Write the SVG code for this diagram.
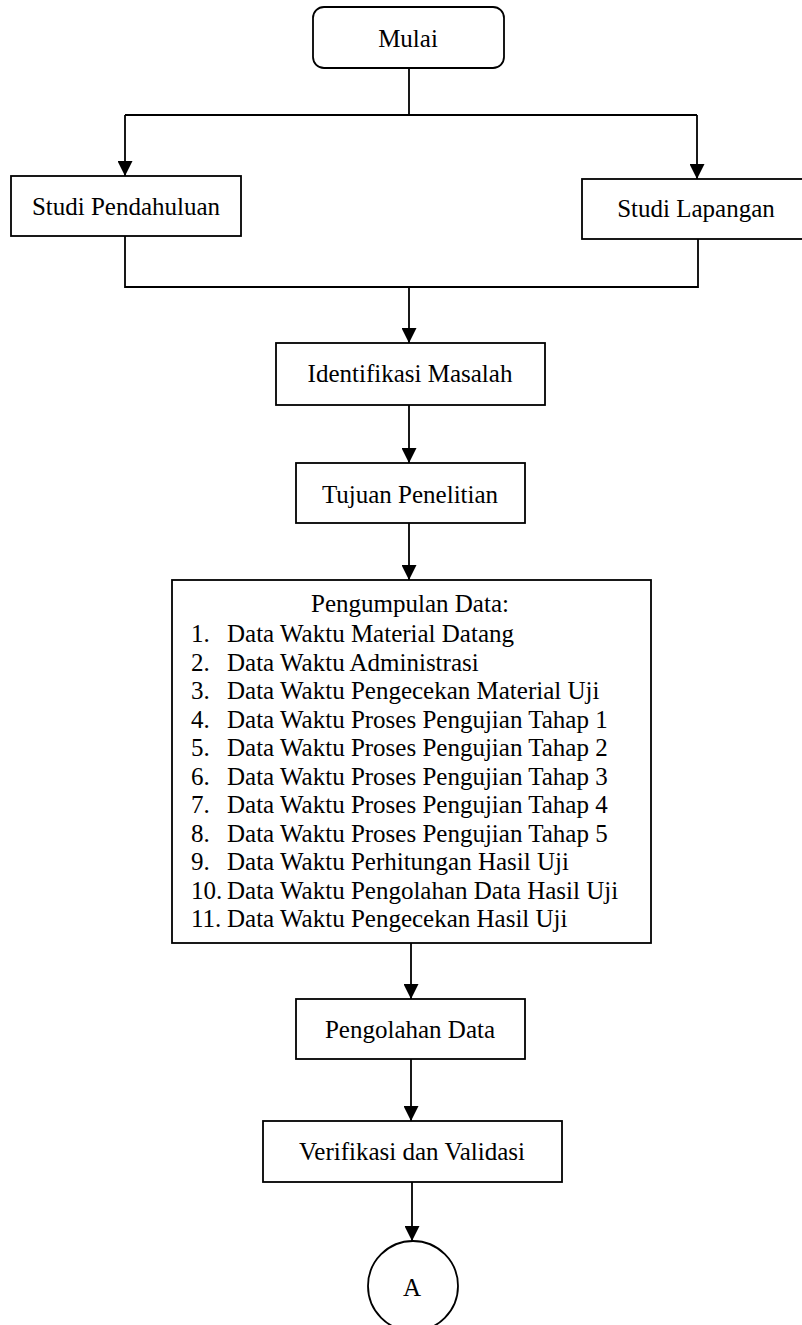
<svg xmlns="http://www.w3.org/2000/svg" width="802" height="1325" viewBox="0 0 802 1325">
<style>
  .box { fill: #ffffff; stroke: #000000; stroke-width: 1.8; }
  .lbl { font-family: "Liberation Serif", "Times New Roman", serif; font-size: 25px; fill: #000000; text-anchor: middle; }
  .lst { font-family: "Liberation Serif", "Times New Roman", serif; font-size: 25px; fill: #000000; }
  .ln { fill: none; stroke: #000000; stroke-width: 1.8; }
  .arr { fill: none; stroke: #000000; stroke-width: 1.8; marker-end: url(#ah); }
</style>
<defs>
  <marker id="ah" markerUnits="userSpaceOnUse" markerWidth="15" markerHeight="15" viewBox="0 0 15 15" refX="15" refY="7.5" orient="auto">
    <path d="M0,0 L15,7.5 L0,15 Z" fill="#000000"/>
  </marker>
</defs>
<rect width="802" height="1325" fill="#ffffff"/>

<g id="connectors">
  <path class="ln" d="M409,68 V115 M125,115 H697"/>
  <path class="arr" d="M125,115 V176"/>
  <path class="arr" d="M697,115 V179"/>
  <path class="ln" d="M125,236 V287 H698 V239"/>
  <path class="arr" d="M409,287 V343"/>
  <path class="arr" d="M409,405 V463"/>
  <path class="arr" d="M409,523 V580"/>
  <path class="arr" d="M411,943 V999"/>
  <path class="arr" d="M411,1059 V1121"/>
  <path class="arr" d="M412,1182 V1241"/>
</g>

<g id="mulai">
  <rect class="box" x="313" y="7" width="191" height="61" rx="11" ry="11"/>
  <text class="lbl" x="408" y="47">Mulai</text>
</g>

<g id="studi-pendahuluan">
  <rect class="box" x="11" y="176" width="230" height="60"/>
  <text class="lbl" x="126" y="215">Studi Pendahuluan</text>
</g>

<g id="studi-lapangan">
  <rect class="box" x="582" y="179" width="230" height="60"/>
  <text class="lbl" x="696" y="217">Studi Lapangan</text>
</g>

<g id="identifikasi-masalah">
  <rect class="box" x="276" y="343" width="269" height="62"/>
  <text class="lbl" x="410" y="382">Identifikasi Masalah</text>
</g>

<g id="tujuan-penelitian">
  <rect class="box" x="296" y="463" width="229" height="60"/>
  <text class="lbl" x="410" y="503">Tujuan Penelitian</text>
</g>

<g id="pengumpulan-data">
  <rect class="box" x="172" y="580" width="479" height="363"/>
  <text class="lbl" x="410" y="612">Pengumpulan Data:</text>
  <text class="lst" x="191" y="642">1.</text><text class="lst" x="227" y="642">Data Waktu Material Datang</text>
  <text class="lst" x="191" y="670.5">2.</text><text class="lst" x="227" y="670.5">Data Waktu Administrasi</text>
  <text class="lst" x="191" y="699">3.</text><text class="lst" x="227" y="699">Data Waktu Pengecekan Material Uji</text>
  <text class="lst" x="191" y="727.5">4.</text><text class="lst" x="227" y="727.5">Data Waktu Proses Pengujian Tahap 1</text>
  <text class="lst" x="191" y="756">5.</text><text class="lst" x="227" y="756">Data Waktu Proses Pengujian Tahap 2</text>
  <text class="lst" x="191" y="784.5">6.</text><text class="lst" x="227" y="784.5">Data Waktu Proses Pengujian Tahap 3</text>
  <text class="lst" x="191" y="813">7.</text><text class="lst" x="227" y="813">Data Waktu Proses Pengujian Tahap 4</text>
  <text class="lst" x="191" y="841.5">8.</text><text class="lst" x="227" y="841.5">Data Waktu Proses Pengujian Tahap 5</text>
  <text class="lst" x="191" y="870">9.</text><text class="lst" x="227" y="870">Data Waktu Perhitungan Hasil Uji</text>
  <text class="lst" x="191" y="898.5">10.</text><text class="lst" x="227" y="898.5">Data Waktu Pengolahan Data Hasil Uji</text>
  <text class="lst" x="191" y="927">11.</text><text class="lst" x="227" y="927">Data Waktu Pengecekan Hasil Uji</text>
</g>

<g id="pengolahan-data">
  <rect class="box" x="296" y="999" width="229" height="60"/>
  <text class="lbl" x="410" y="1038">Pengolahan Data</text>
</g>

<g id="verifikasi-validasi">
  <rect class="box" x="263" y="1121" width="299" height="61"/>
  <text class="lbl" x="412" y="1160">Verifikasi dan Validasi</text>
</g>

<g id="konektor-a">
  <circle class="box" cx="413" cy="1286" r="45"/>
  <text class="lbl" x="412" y="1296">A</text>
</g>
</svg>
